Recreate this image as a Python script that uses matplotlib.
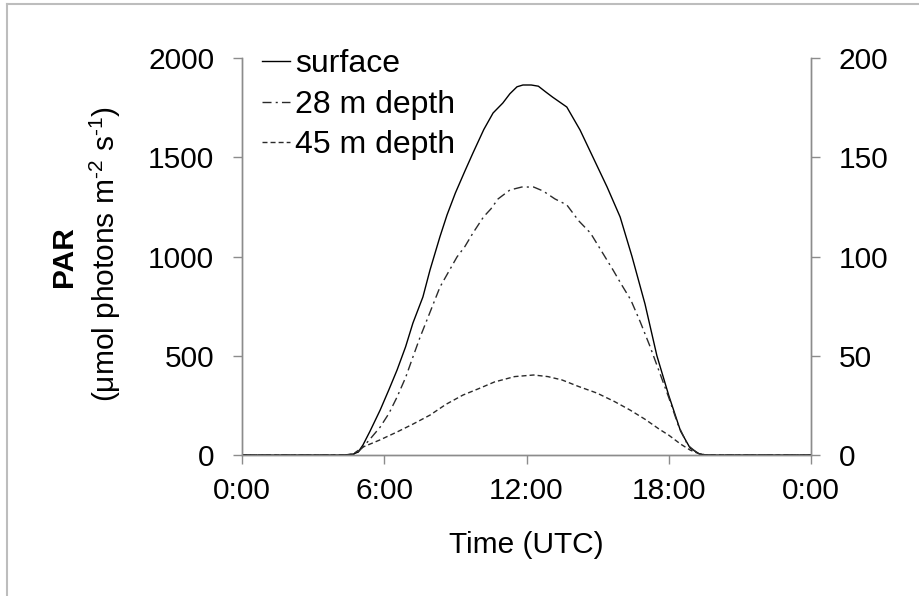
import matplotlib
matplotlib.use("Agg")
import matplotlib.pyplot as plt
from matplotlib.lines import Line2D

plt.rcParams['font.family'] = ['Liberation Sans', 'DejaVu Sans']
plt.rcParams['mathtext.fontset'] = 'custom'
plt.rcParams['mathtext.rm'] = 'Liberation Sans'

# ---- data (hours UTC) ----
surface_t = [0, 4.3, 4.7, 4.9, 5.1, 5.4, 5.83, 6.2, 6.54, 6.9, 7.21, 7.63, 7.93, 8.35, 8.65,
             9.0, 9.4, 9.74, 10.2, 10.59, 11.0, 11.3, 11.6, 11.85, 12.2, 12.5, 12.8, 13.1,
             13.7, 14.26, 14.8, 15.4, 15.95, 16.45, 17.0, 17.5, 18.0, 18.5, 18.9, 19.3, 19.6, 24]
surface_v = [0, 0, 5, 15, 50, 120, 227, 330, 428, 545, 665, 796, 932, 1100, 1210,
             1320, 1430, 1521, 1640, 1723, 1773, 1820, 1855, 1864, 1864, 1858, 1830, 1803,
             1753, 1637, 1501, 1350, 1199, 1000, 760, 500, 300, 120, 35, 5, 0, 0]

d28_t = [0, 4.5, 4.8, 5.1, 5.4, 5.83, 6.2, 6.54, 6.9, 7.21, 7.5, 7.8, 8.35, 8.7, 9.07, 9.4,
         9.74, 10.19, 10.5, 10.8, 11.3, 11.8, 12.3, 12.7, 13.2, 13.7, 14.2, 14.7, 15.2,
         15.65, 16.0, 16.4, 16.8, 17.2, 17.6, 18.0, 18.4, 18.8, 19.2, 19.5, 24]
d28_v = [0, 0, 0.3, 4, 8, 14.1, 21, 29.2, 39, 49.4, 59, 68, 84.6, 92, 99.8, 105,
         111.8, 120, 124, 129, 133.5, 135, 135, 133, 129, 126, 118, 111.8, 102,
         93.2, 86, 78.1, 67, 55, 42, 29, 15, 5, 1, 0, 0]

d45_t = [0, 4.4, 4.7, 5.1, 5.8, 6.54, 7.2, 7.93, 8.6, 9.32, 10.0, 10.65, 11.5, 12.3, 12.9,
         13.5, 14.2, 14.97, 15.7, 16.36, 17.0, 17.6, 18.0, 18.5, 18.9, 19.3, 19.6, 24]
d45_v = [0, 0, 0.6, 4, 7.5, 11.6, 15.5, 20.1, 25.5, 30.2, 33.5, 36.8, 39.5, 40.3, 39.5,
         37.8, 34.5, 31.2, 27, 22.7, 18, 13, 10, 5.5, 2.5, 0.5, 0, 0]

x_ticks = [0, 6, 12, 18, 24]
x_labels = ["0:00", "6:00", "12:00", "18:00", "0:00"]
left_ticks = [0, 500, 1000, 1500, 2000]
right_ticks = [0, 50, 100, 150, 200]
series_labels = ["surface", "28 m depth", "45 m depth"]

FS = 21.5
LFS = 23
GRAY = "#8c8c8c"

fig = plt.figure(figsize=(9.2, 5.96), dpi=100)
ax = fig.add_axes([242/920, 1-455/596, (811-242)/920, (455-58)/596])
ax2 = ax.twinx()

l1, = ax.plot(surface_t, surface_v, color="black", lw=1.0)
l2, = ax2.plot(d28_t, d28_v, color="#2a2a2a", lw=1.0, dashes=(6.5, 3, 1.5, 3))
l3, = ax2.plot(d45_t, d45_v, color="#2a2a2a", lw=1.0, dashes=(3.6, 2.2))

ax.set_xlim(0, 24)
ax.set_ylim(0, 2000)
ax2.set_ylim(0, 200)
ax.set_xticks(x_ticks)
ax.set_xticklabels(x_labels)
ax.set_yticks(left_ticks)
ax2.set_yticks(right_ticks)

for a in (ax, ax2):
    for s in a.spines.values():
        s.set_color(GRAY)
        s.set_linewidth(1.0)
    a.spines['top'].set_visible(False)
    a.tick_params(direction='out', length=6.5, width=1.0, color=GRAY,
                  labelsize=FS, labelcolor="black")
ax.tick_params(axis='y', pad=13.5)
ax.tick_params(axis='x', pad=9)
ax2.tick_params(axis='y', pad=13.5)

leg = ax.legend([l1, l2, l3], series_labels, loc='upper left',
                bbox_to_anchor=(0.035, 1.022), frameon=False, fontsize=LFS,
                borderpad=0, borderaxespad=0, handlelength=0.87,
                handletextpad=0.157, labelspacing=0.33)

fig.text(64/920, 1-256.5/596, "PAR", rotation=90, fontsize=FS, fontweight='bold',
         ha='center', va='center')
fig.text(105/920, 1-254/596, "(μmol photons m$^{\\mathregular{\u2010}2}$ s$^{\\mathregular{\u20101}}$)",
         rotation=90, fontsize=FS, ha='center', va='center')
fig.text(526/920, 1-545/596, "Time (UTC)", fontsize=FS, ha='center', va='center')

# outer frame (partially visible)
fig.add_artist(Line2D([7/920, 7/920], [0, 1-4/596], transform=fig.transFigure,
                      color="#bdbdbd", lw=1.5))
fig.add_artist(Line2D([7/920, 1], [1-4/596, 1-4/596], transform=fig.transFigure,
                      color="#bdbdbd", lw=1.5))

fig.savefig("out.png", dpi=100)
